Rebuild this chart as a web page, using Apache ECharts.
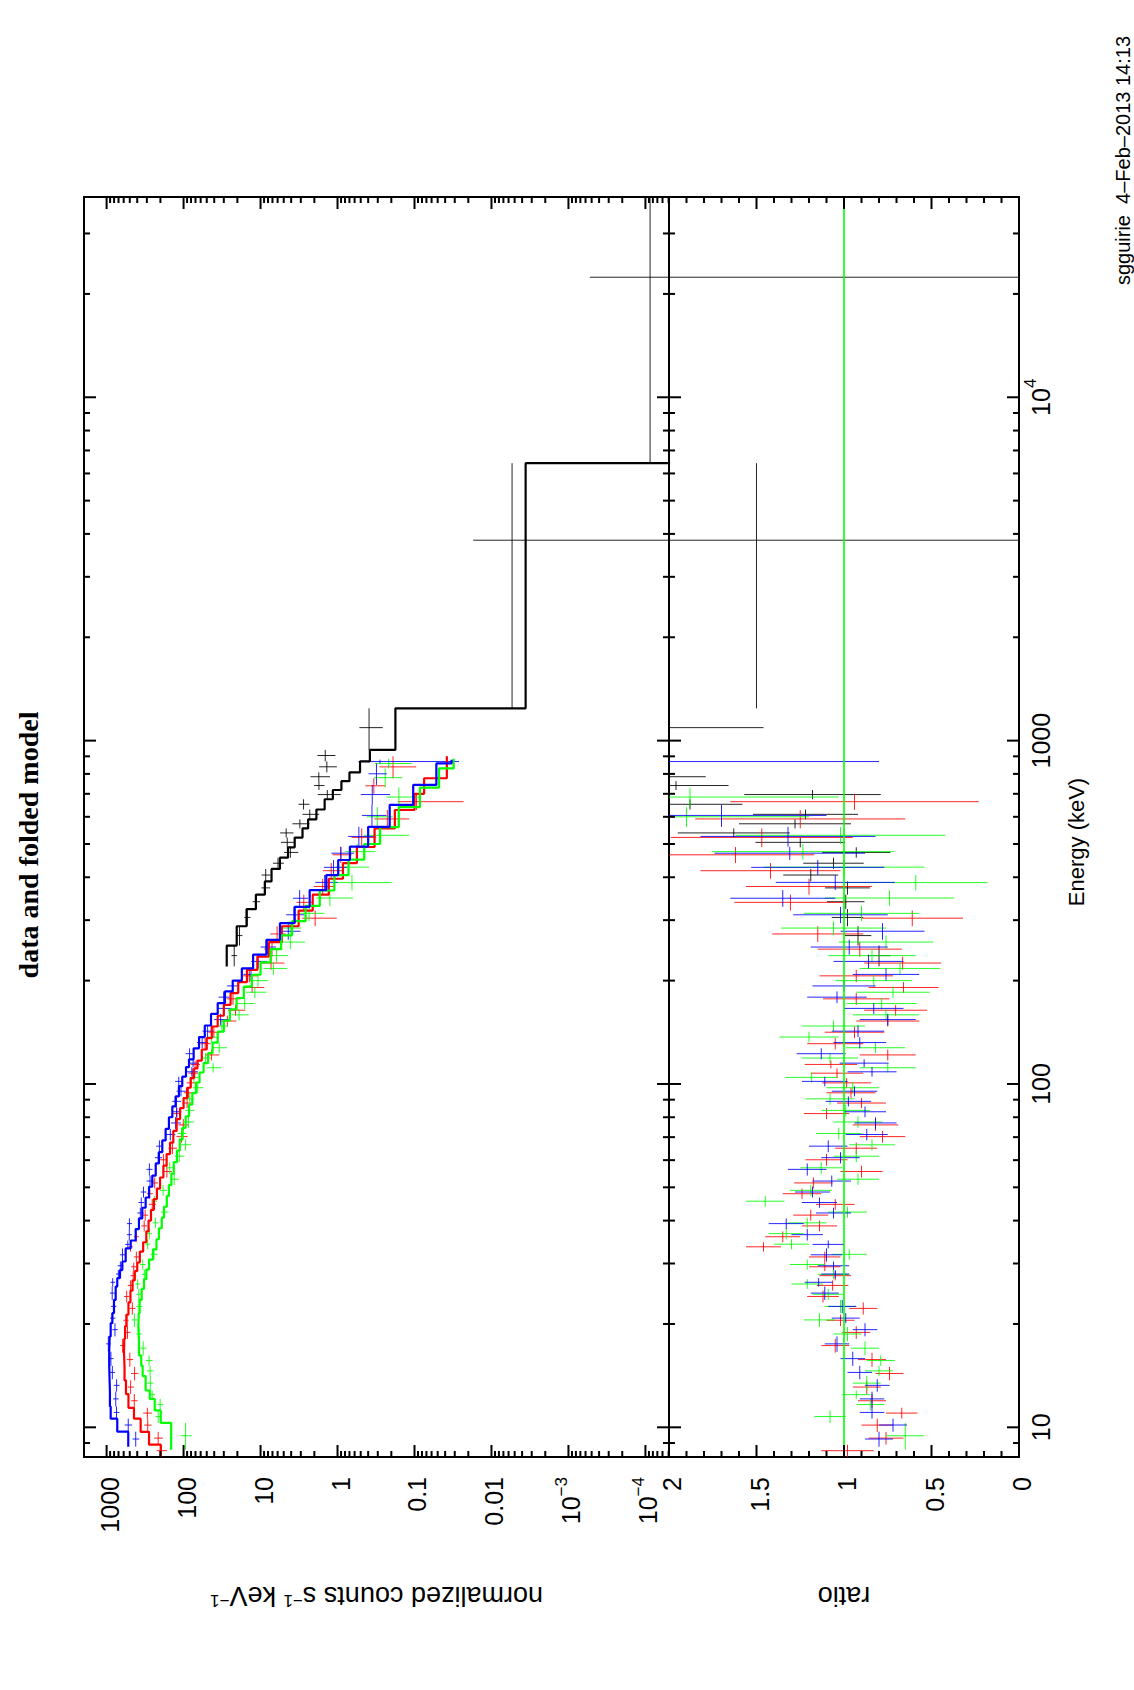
<!DOCTYPE html>
<html>
<head>
<meta charset="utf-8">
<script src="https://cdn.jsdelivr.net/npm/echarts@6/dist/echarts.min.js"></script>
<style>
html,body{margin:0;padding:0;background:#fff;width:1134px;height:1690px;overflow:hidden;}
#wrap{position:absolute;left:0;top:0;width:1690px;height:1134px;transform-origin:0 0;transform:translate(0px,1690px) rotate(-90deg);}
#chart{width:1690px;height:1134px;background:#fff;}
</style>
</head>
<body>
<div id="wrap"><div id="chart"></div></div>
<script>
// ---------------- axis ranges and tick labels ----------------
const energyRange = [8.195, 38310];          // keV
const countsRange = [4.94e-5, 1966];         // normalized counts s^-1 keV^-1
const ratioRange = [0, 2];
const energyLabels = [10, 100, 1000, 10000];
const countsLabels = [1000, 100, 10, 1, 0.1, 0.01, 0.001, 0.0001];
const ratioLabels = [0, 0.5, 1, 1.5, 2];

// ---------------- NaI detector (blue) ----------------
const blueEdges = [8.78, 9.71, 10.6, 11.5, 12.7, 13.8, 15.1, 16.6, 18.4, 20.1, 21.5, 23.5, 25.7, 27.2, 28.7, 30.4, 33.2, 35.0, 37.8, 40.6, 43.6, 46.7, 50.2, 54.1, 58.7, 63.3, 68.5, 74.0, 80.0, 86.0, 92.0, 98.5, 105, 112, 118, 127, 137, 148, 160, 172, 186, 200, 217, 238, 263, 294, 328, 367, 406, 449, 491, 561, 650, 743, 858, 880];
const blueModel = [523, 727, 885, 905, 915, 925, 925, 912, 885, 843, 802, 762, 727, 670, 625, 565, 486, 419, 380, 344, 311, 281, 255, 230, 209, 189, 171, 155, 140, 127, 115, 104, 93, 85, 74, 63, 53, 44, 36, 29, 23, 17.5, 12.5, 8.4, 5.6, 3.6, 2.3, 1.4, 0.98, 0.69, 0.40, 0.21, 0.104, 0.052, 0.033];
const blueRatio = [0.80, 0.72, 0.84, 0.84, 0.81, 0.91, 0.95, 1.04, 0.88, 0.99, 1.01, 1.11, 1.145, 1.05, 1.06, 1.10, 1.09, 1.21, 1.33, 1.06, 1.14, 1.18, 1.07, 1.21, 1.02, 1.09, 0.87, 0.82, 0.88, 0.975, 0.94, 1.11, 0.84, 0.885, 1.13, 0.91, 0.92, 0.75, 0.83, 1.04, 1.0, 0.76, 0.86, 0.97, 0.78, 1.02, 1.35, 1.05, 1.15, 1.31, 1.32, 1.70, 3.4, 6.0, 8.5];
const blueRatioErr = [0.08, 0.08, 0.07, 0.07, 0.07, 0.07, 0.07, 0.07, 0.07, 0.08, 0.08, 0.08, 0.08, 0.08, 0.09, 0.09, 0.09, 0.09, 0.10, 0.10, 0.10, 0.10, 0.11, 0.11, 0.11, 0.11, 0.12, 0.12, 0.12, 0.13, 0.13, 0.13, 0.14, 0.14, 0.14, 0.15, 0.15, 0.16, 0.17, 0.17, 0.18, 0.19, 0.20, 0.22, 0.24, 0.27, 0.30, 0.34, 0.38, 0.43, 0.50, 0.60, 1.4, 1.6, 7.7];

// ---------------- NaI detector (red) ----------------
const redEdges = [8.2, 8.9, 9.7, 10.6, 11.4, 12.5, 13.7, 15.0, 16.5, 18.1, 19.7, 21.3, 23.1, 25.0, 26.8, 28.5, 30.2, 32.5, 34.6, 37.2, 40.0, 43.0, 46.2, 49.6, 53.4, 57.8, 62.5, 67.5, 73.0, 79.0, 85.0, 91.0, 97.5, 104, 111, 117, 126, 136, 147, 158, 170, 184, 198, 215, 235, 259, 288, 320, 356, 396, 440, 490, 555, 628, 700, 777, 900];
const redModel = [198, 281, 361, 441, 520, 560, 585, 594, 590, 575, 550, 520, 490, 460, 430, 400, 370, 335, 305, 285, 265, 243, 222, 202, 183, 166, 150, 136, 123, 111, 100, 90, 81, 73, 66, 58, 50, 43, 36, 30, 24.5, 19.5, 15, 11, 7.8, 5.3, 3.2, 2.1, 1.3, 0.85, 0.56, 0.33, 0.18, 0.10, 0.075, 0.038];
const redRatio = [0.98, 0.76, 0.81, 0.67, 0.84, 0.87, 0.74, 0.84, 1.05, 0.93, 1.02, 0.89, 1.12, 1.065, 1.05, 1.11, 1.11, 1.46, 1.35, 1.14, 1.19, 1.05, 1.24, 1.175, 0.90, 1.10, 0.93, 0.78, 0.82, 1.10, 0.90, 0.96, 0.985, 1.04, 1.075, 0.75, 1.05, 0.94, 0.75, 0.705, 0.93, 0.66, 0.93, 0.665, 0.91, 1.15, 0.61, 1.306, 1.20, 1.42, 1.62, 1.47, 1.25, 0.94, 4.5, 5.0];
const redRatioErr = [0.15, 0.10, 0.09, 0.09, 0.08, 0.08, 0.08, 0.08, 0.08, 0.08, 0.08, 0.08, 0.09, 0.09, 0.09, 0.09, 0.09, 0.10, 0.10, 0.10, 0.10, 0.11, 0.11, 0.11, 0.12, 0.12, 0.12, 0.13, 0.13, 0.13, 0.14, 0.14, 0.14, 0.15, 0.15, 0.16, 0.16, 0.17, 0.18, 0.18, 0.19, 0.20, 0.21, 0.22, 0.24, 0.26, 0.29, 0.32, 0.36, 0.40, 0.45, 0.52, 0.60, 0.71, 1.3, 2.5];

// ---------------- NaI detector (green) ----------------
const greenEdges = [8.6, 10.3, 11.2, 12.1, 12.8, 14.1, 15.1, 16.2, 17.8, 19.6, 21.5, 23.5, 25.3, 27.0, 28.8, 30.8, 33.0, 35.3, 38.0, 40.8, 43.9, 47.2, 50.8, 54.8, 59.2, 64.0, 69.0, 74.5, 80.5, 87.0, 94.0, 101, 108, 115, 123, 132, 142, 153, 165, 178, 192, 208, 226, 247, 271, 298, 330, 366, 406, 450, 500, 560, 640, 730, 830, 885];
const greenModel = [145, 198, 237, 275, 311, 340, 355, 380, 387, 382, 372, 350, 327, 305, 281, 250, 225, 209, 192, 180, 165, 155, 144, 134, 122, 112, 103, 94, 85, 77, 69, 62, 55, 48, 42, 36, 30, 25, 20.5, 16.5, 13, 10, 7.4, 5.4, 3.9, 2.6, 1.7, 1.1, 0.72, 0.45, 0.28, 0.16, 0.085, 0.048, 0.031];
const greenRatio = [0.65, 1.08, 0.85, 0.93, 0.87, 0.80, 0.79, 0.88, 0.98, 1.14, 1.02, 1.09, 1.21, 1.06, 1.21, 0.97, 1.30, 1.33, 1.21, 0.98, 1.45, 1.19, 0.92, 1.13, 0.93, 0.84, 1.03, 0.92, 0.99, 1.08, 0.95, 1.185, 0.75, 1.08, 0.82, 1.20, 1.06, 0.76, 0.785, 0.72, 0.83, 0.68, 0.84, 0.76, 1.06, 0.90, 0.74, 0.59, 1.0, 1.235, 1.02, 1.90, 1.88, 5.0, 7.0];
const greenRatioErr = [0.11, 0.09, 0.08, 0.08, 0.08, 0.08, 0.08, 0.08, 0.08, 0.09, 0.09, 0.09, 0.09, 0.09, 0.10, 0.10, 0.10, 0.10, 0.11, 0.11, 0.11, 0.12, 0.12, 0.12, 0.13, 0.13, 0.13, 0.14, 0.14, 0.14, 0.15, 0.15, 0.16, 0.16, 0.17, 0.17, 0.18, 0.19, 0.20, 0.21, 0.22, 0.23, 0.25, 0.27, 0.30, 0.33, 0.37, 0.41, 0.46, 0.52, 0.60, 0.70, 0.85, 2.0, 3.5];

// ---------------- BGO detector (black) ----------------
const bgoEdges = [220, 253, 288, 323, 356, 389, 423, 456, 489, 522, 555, 590, 630, 675, 718, 762, 808, 870, 940, 1242, 6427, 38310];
const bgoModel = [27.5, 20.4, 15.2, 11.5, 8.8, 7.2, 5.6, 4.4, 3.6, 2.85, 2.41, 1.88, 1.47, 1.15, 0.89, 0.70, 0.51, 0.38, 0.177, 0.0036, 2.0e-5];
const bgoRatio = [0.80, 0.92, 0.98, 0.99, 0.98, 1.19, 1.06, 0.93, 1.25, 1.63, 1.28, 1.22, 1.88, 1.18, 1.96, 2.5, 2.7, 3.8, 2.2, 1.5, 4.35];
const bgoRatioErr = [0.067, 0.076, 0.09, 0.107, 0.128, 0.157, 0.173, 0.195, 0.256, 0.32, 0.32, 0.30, 0.30, 0.39, 0.30, 0.71, 0.7, 1.0, 0.74, 3.3, 22];

// ---------------- helpers ----------------
const SANS = 'Liberation Sans, Arial, Helvetica, sans-serif';
const detectors = [
  {name: 'BGO', color: '#000000', edges: bgoEdges, model: bgoModel, ratio: bgoRatio, err: bgoRatioErr},
  {name: 'NaI red', color: '#ff0000', edges: redEdges, model: redModel, ratio: redRatio, err: redRatioErr},
  {name: 'NaI green', color: '#00ff00', edges: greenEdges, model: greenModel, ratio: greenRatio, err: greenRatioErr},
  {name: 'NaI blue', color: '#0000ff', edges: blueEdges, model: blueModel, ratio: blueRatio, err: blueRatioErr}
];

function crosses(d, top) {
  const out = [];
  for (let i = 0; i < d.model.length; i++) {
    const lo = d.edges[i], hi = d.edges[i + 1], mid = (lo + hi) / 2;
    const r = d.ratio[i], e = d.err[i], m = d.model[i];
    if (top) out.push([mid, m * r, lo, hi, Math.max(m * (r - e), 1e-12), m * (r + e)]);
    else out.push([mid, r, lo, hi, r - e, r + e]);
  }
  return out;
}
function steps(d) {
  const out = [];
  for (let i = 0; i < d.model.length; i++) out.push([d.edges[i], d.model[i]]);
  out.push([d.edges[d.model.length], d.model[d.model.length - 1]]);
  return out;
}
function crossRender(color) {
  return function (params, api) {
    const mid = api.value(0), v = api.value(1), lo = api.value(2), hi = api.value(3), el = api.value(4), eh = api.value(5);
    const a = api.coord([lo, v]), b = api.coord([hi, v]), c = api.coord([mid, el]), dd = api.coord([mid, eh]);
    const st = {stroke: color, lineWidth: 1, opacity: 0.85};
    return {type: 'group', children: [
      {type: 'line', shape: {x1: a[0], y1: a[1], x2: b[0], y2: b[1]}, style: st},
      {type: 'line', shape: {x1: c[0], y1: c[1], x2: dd[0], y2: dd[1]}, style: st}
    ]};
  };
}
function tickRender(params, api) {
  const cs = params.coordSys;
  const kind = api.value(2), major = api.value(3);
  const len = major ? 12 : 6;
  const st = {stroke: '#000', lineWidth: 2};
  if (kind === 0) {
    const x = api.coord([api.value(0), api.value(1)])[0];
    return {type: 'group', children: [
      {type: 'line', shape: {x1: x, y1: cs.y + cs.height, x2: x, y2: cs.y + cs.height - len}, style: st},
      {type: 'line', shape: {x1: x, y1: cs.y, x2: x, y2: cs.y + len}, style: st}
    ]};
  }
  const y = api.coord([api.value(0), api.value(1)])[1];
  return {type: 'group', children: [
    {type: 'line', shape: {x1: cs.x, y1: y, x2: cs.x + len, y2: y}, style: st},
    {type: 'line', shape: {x1: cs.x + cs.width, y1: y, x2: cs.x + cs.width - len, y2: y}, style: st}
  ]};
}
function logTicks(range) {
  const out = [];
  const d0 = Math.floor(Math.log10(range[0])), d1 = Math.ceil(Math.log10(range[1]));
  for (let d = d0; d <= d1; d++) for (let k = 1; k <= 9; k++) {
    const v = k * Math.pow(10, d);
    if (v >= range[0] && v <= range[1]) out.push([v, k === 1 ? 1 : 0]);
  }
  return out;
}
// tick descriptors: [x, y, kind(0 = energy, 1 = value axis), major]
const eTicks = logTicks(energyRange);
const topTicks = eTicks.map(t => [t[0], 1, 0, t[1]]).concat(logTicks(countsRange).map(t => [100, t[0], 1, t[1]]));
const ratioTicks = eTicks.map(t => [t[0], 1, 0, t[1]]);
for (let i = 0; i <= 20; i++) ratioTicks.push([100, i / 10, 1, i % 5 === 0 ? 1 : 0]);

function isDecadeIn(v, list) {
  const l = Math.log10(v), e = Math.round(l);
  if (Math.abs(l - e) > 1e-4) return null;
  return list.some(c => Math.round(Math.log10(c)) === e) ? e : null;
}
const supRich = {
  b: {fontSize: 25, fontFamily: SANS, color: '#000', lineHeight: 31, verticalAlign: 'bottom'},
  s: {fontSize: 17, fontFamily: SANS, color: '#000', lineHeight: 17, verticalAlign: 'top'}
};
function countsFmt(v) {
  const e = isDecadeIn(v, countsLabels);
  if (e === null) return '';
  if (e >= -2) return '{b|' + (e >= 0 ? String(Math.pow(10, e)) : (e === -1 ? '0.1' : '0.01')) + '}';
  return '{b|10}{s|\u2212' + (-e) + '}';
}
function energyFmt(v) {
  const e = isDecadeIn(v, energyLabels);
  if (e === null) return '';
  if (e <= 3) return '{b|' + String(Math.pow(10, e)) + '}';
  return '{b|10}{s|' + e + '}';
}
function ratioFmt(v) {
  return ratioLabels.some(r => Math.abs(r - v) < 1e-9) ? '{b|' + String(v) + '}' : '';
}

// ---------------- series ----------------
const series = [];
detectors.forEach(d => {
  series.push({type: 'custom', name: d.name + ' data', xAxisIndex: 0, yAxisIndex: 0, clip: true, z: 3,
    renderItem: crossRender(d.color), encode: {x: 0, y: 1}, data: crosses(d, true)});
  series.push({type: 'custom', name: d.name + ' ratio', xAxisIndex: 1, yAxisIndex: 1, clip: true, z: 3,
    renderItem: crossRender(d.color), encode: {x: 0, y: 1}, data: crosses(d, false)});
});
detectors.forEach(d => {
  series.push({type: 'line', name: d.name + ' model', xAxisIndex: 0, yAxisIndex: 0, step: 'end', showSymbol: false,
    symbol: 'none', clip: true, z: 4, lineStyle: {color: d.color, width: 2.2}, data: steps(d)});
});
series.push({type: 'line', name: 'unity', xAxisIndex: 1, yAxisIndex: 1, showSymbol: false, symbol: 'none', z: 4,
  lineStyle: {color: '#00ff00', width: 1.6}, data: [[energyRange[0], 1], [energyRange[1], 1]]});
series.push({type: 'custom', name: 'ticks top', xAxisIndex: 0, yAxisIndex: 0, clip: false, z: 6,
  renderItem: tickRender, encode: {x: 0, y: 1}, data: topTicks});
series.push({type: 'custom', name: 'ticks ratio', xAxisIndex: 1, yAxisIndex: 1, clip: false, z: 6,
  renderItem: tickRender, encode: {x: 0, y: 1}, data: ratioTicks});

const hiddenAxisParts = {axisLine: {show: false}, axisTick: {show: false}, splitLine: {show: false}, minorTick: {show: false}};

const option = {
  animation: false,
  backgroundColor: '#ffffff',
  title: [
    {text: 'data and folded model', left: 'center', top: 14, padding: 0,
      textStyle: {fontFamily: 'Liberation Serif, Times New Roman, serif', fontWeight: 'bold', fontSize: 28, color: '#000'}},
    {text: 'sgguirie  4\u2013Feb\u20132013 14:13', right: 36, top: 1113, padding: 0,
      textStyle: {fontFamily: SANS, fontWeight: 'normal', fontSize: 20, color: '#000'}}
  ],
  grid: [
    {left: 233, right: 197, top: 84, height: 585, show: true, borderColor: '#000', borderWidth: 2, backgroundColor: 'transparent'},
    {left: 233, right: 197, top: 669, height: 350, show: true, borderColor: '#000', borderWidth: 2, backgroundColor: 'transparent'}
  ],
  xAxis: [
    Object.assign({gridIndex: 0, type: 'log', logBase: 10, min: energyRange[0], max: energyRange[1],
      axisLabel: {show: false}}, hiddenAxisParts),
    Object.assign({gridIndex: 1, type: 'log', logBase: 10, min: energyRange[0], max: energyRange[1],
      axisLabel: {show: true, margin: 3, formatter: energyFmt, rich: supRich, showMinLabel: false, showMaxLabel: false},
      name: 'Energy (keV)', nameLocation: 'middle', nameGap: 46,
      nameTextStyle: {fontFamily: SANS, fontSize: 22, color: '#000', padding: [0, 30, 0, 0]}}, hiddenAxisParts)
  ],
  yAxis: [
    Object.assign({gridIndex: 0, type: 'log', logBase: 10, min: countsRange[0], max: countsRange[1],
      axisLabel: {show: true, margin: 20, formatter: countsFmt, rich: supRich, showMinLabel: false, showMaxLabel: false},
      name: 'normalized counts s{s|\u22121} keV{s|\u22121}', nameLocation: 'middle', nameGap: 125, nameRotate: 90,
      nameTextStyle: {fontFamily: SANS, fontSize: 27, color: '#000',
        rich: {s: {fontFamily: SANS, fontSize: 17, color: '#000', verticalAlign: 'top'}}}}, hiddenAxisParts),
    Object.assign({gridIndex: 1, type: 'value', min: ratioRange[0], max: ratioRange[1], interval: 0.5,
      axisLabel: {show: true, margin: 20, formatter: ratioFmt, rich: supRich, showMinLabel: true, showMaxLabel: true},
      name: 'ratio', nameLocation: 'middle', nameGap: 125, nameRotate: 90,
      nameTextStyle: {fontFamily: SANS, fontSize: 27, color: '#000'}}, hiddenAxisParts)
  ],
  series: series
};
const chart = echarts.init(document.getElementById('chart'), null, {renderer: 'svg', width: 1690, height: 1134});
chart.setOption(option);
</script>
</body>
</html>
